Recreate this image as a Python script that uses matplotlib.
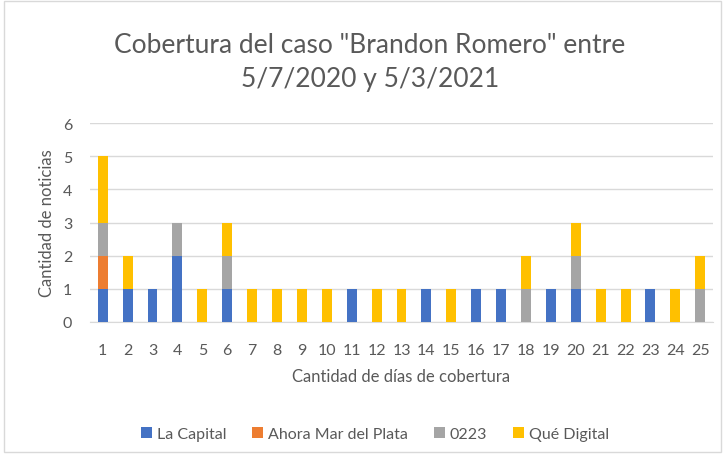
import numpy as np
import matplotlib.pyplot as plt
from matplotlib.patches import Rectangle

dias = list(range(1, 26))
la_capital = [1, 1, 1, 2, 0, 1, 0, 0, 0, 0, 1, 0, 0, 1, 0, 1, 1, 0, 1, 1, 0, 0, 1, 0, 0]
ahora_mdp = [1, 0, 0, 0, 0, 0, 0, 0, 0, 0, 0, 0, 0, 0, 0, 0, 0, 0, 0, 0, 0, 0, 0, 0, 0]
cero223 = [1, 0, 0, 1, 0, 1, 0, 0, 0, 0, 0, 0, 0, 0, 0, 0, 0, 1, 0, 1, 0, 0, 0, 0, 1]
que_digital = [2, 1, 0, 0, 1, 1, 1, 1, 1, 1, 0, 1, 1, 0, 1, 0, 0, 1, 0, 1, 1, 1, 0, 1, 1]

series = [("La Capital", la_capital, "#4472C4"),
          ("Ahora Mar del Plata", ahora_mdp, "#ED7D31"),
          ("0223", cero223, "#A5A5A5"),
          ("Qué Digital", que_digital, "#FFC000")]

plt.rcParams['font.family'] = ['Lato', 'DejaVu Sans']
gris = "#595959"

fig = plt.figure(figsize=(7.28, 4.6), dpi=100)
ax = fig.add_axes([0.124, 0.298, 0.855, 0.432])

base = np.zeros(len(dias))
for nombre, vals, color in series:
    ax.bar(dias, vals, bottom=base, width=0.4, color=color, label=nombre, zorder=3)
    base += np.array(vals)

ax.set_xlim(0.5, 25.5)
ax.set_ylim(0, 6)
ax.set_xticks(dias)
ax.set_yticks(range(0, 7))
ax.grid(axis='y', color='#D9D9D9', linewidth=1, zorder=0)
for s in ['top', 'right', 'left']:
    ax.spines[s].set_visible(False)
ax.spines['bottom'].set_color('#D9D9D9')
ax.tick_params(length=0, labelsize=11.5, colors=gris)
ax.tick_params(axis='x', pad=15)
ax.tick_params(axis='y', pad=13)

ax.set_xlabel("Cantidad de días de cobertura", fontsize=12, color=gris, labelpad=8)
ax.set_ylabel("Cantidad de noticias", fontsize=12, color=gris, labelpad=6)

fig.text(0.508, 0.865, 'Cobertura del caso "Brandon Romero" entre\n5/7/2020 y 5/3/2021',
         ha='center', va='center', fontsize=19, color=gris, linespacing=1.45)

fig.legend(loc='center', bbox_to_anchor=(0.515, 0.055), ncol=4, frameon=False,
           fontsize=11.5, labelcolor=gris, handlelength=0.7, handleheight=0.7,
           columnspacing=1.6, handletextpad=0.3)

fig.patches.append(Rectangle((0.006, 0.015), 0.985, 0.98, transform=fig.transFigure,
                             fill=False, edgecolor='#D9D9D9', linewidth=1))

fig.savefig("out.png", dpi=100)
